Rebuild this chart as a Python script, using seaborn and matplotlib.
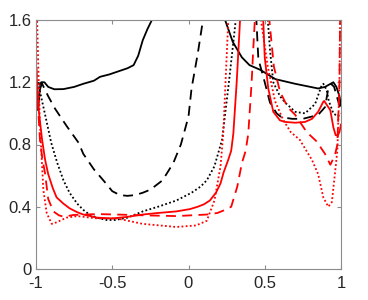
import matplotlib
matplotlib.use("Agg")
import matplotlib.pyplot as plt
import seaborn as sns
import pandas as pd
import numpy as np

sns.set_theme(style="white")
plt.rcParams['font.family'] = ['Liberation Sans', 'DejaVu Sans']

# ---- data ----
bs_left_x = [-1.0, -0.995, -0.99, -0.985, -0.975, -0.96, -0.945, -0.92, -0.88, -0.82, -0.75, -0.69, -0.62,
             -0.58, -0.52, -0.46, -0.40, -0.36, -0.33, -0.30, -0.27, -0.24, -0.22]
bs_left_y = [1.08, 1.02, 1.12, 1.04, 1.15, 1.20, 1.20, 1.17, 1.155, 1.156, 1.17, 1.19, 1.21,
             1.235, 1.25, 1.27, 1.29, 1.31, 1.37, 1.47, 1.54, 1.60, 1.70]
bs_right_x = [0.22, 0.24, 0.29, 0.35, 0.40, 0.47, 0.57, 0.70, 0.85, 0.895, 0.95, 0.97, 0.99, 1.0]
bs_right_y = [1.75, 1.60, 1.46, 1.36, 1.31, 1.28, 1.22, 1.19, 1.16, 1.17, 1.20, 1.17, 1.11, 1.05]

bd_left_x = [-0.98, -0.965, -0.95, -0.92, -0.875, -0.80, -0.72, -0.69, -0.62, -0.55, -0.50, -0.45, -0.40,
             -0.35, -0.30, -0.25, -0.17, -0.10, -0.05, 0.0, 0.02, 0.06, 0.095, 0.11]
bd_left_y = [1.18, 1.20, 1.17, 1.11, 1.03, 0.92, 0.81, 0.74, 0.64, 0.56, 0.50, 0.475, 0.47,
             0.475, 0.49, 0.51, 0.57, 0.68, 0.80, 0.98, 1.16, 1.38, 1.60, 1.70]
bd_right_x = [0.43, 0.445, 0.458, 0.50, 0.534, 0.578, 0.61, 0.68, 0.75, 0.85, 0.895, 0.915, 0.935, 0.955,
              0.975, 1.0]
bd_right_y = [1.75, 1.60, 1.35, 1.20, 1.07, 1.00, 0.975, 0.965, 0.965, 0.99, 1.04, 1.15, 1.19, 1.17, 1.10, 1.02]

bt_left_x = [-0.985, -0.974, -0.94, -0.90, -0.86, -0.82, -0.78, -0.73, -0.69, -0.65, -0.60, -0.54, -0.48,
             -0.40, -0.30, -0.20, -0.08, 0.02, 0.08, 0.12, 0.17, 0.22, 0.265, 0.31, 0.32]
bt_left_y = [1.20, 1.14, 0.99, 0.81, 0.68, 0.57, 0.49, 0.42, 0.38, 0.35, 0.33, 0.315, 0.315,
             0.33, 0.37, 0.40, 0.44, 0.49, 0.53, 0.57, 0.66, 0.83, 1.20, 1.60, 1.70]
bt_right_x = [0.51, 0.52, 0.535, 0.556, 0.60, 0.633, 0.70, 0.764, 0.83, 0.873, 0.884, 0.906, 0.92, 0.95,
              0.98, 1.0]
bt_right_y = [1.75, 1.60, 1.40, 1.20, 1.11, 1.07, 1.01, 1.00, 1.06, 1.18, 1.19, 1.15, 1.08, 1.00,
              0.98, 1.00]

rs_left_x = [-1.0, -0.98, -0.96, -0.94, -0.92, -0.89, -0.865, -0.82, -0.78, -0.73, -0.69, -0.60, -0.50,
             -0.40, -0.30, -0.20, -0.08, 0.01, 0.06, 0.10, 0.14, 0.18, 0.21, 0.23, 0.26, 0.28, 0.294,
             0.316, 0.338, 0.35]
rs_left_y = [1.30, 1.00, 0.83, 0.70, 0.61, 0.52, 0.46, 0.42, 0.39, 0.365, 0.35, 0.33, 0.325,
             0.335, 0.35, 0.36, 0.37, 0.385, 0.40, 0.415, 0.44, 0.49, 0.55, 0.62, 0.70, 0.76, 0.87,
             1.20, 1.60, 1.80]
rs_right_x = [0.48, 0.49, 0.50, 0.523, 0.556, 0.60, 0.633, 0.70, 0.764, 0.81, 0.85, 0.884, 0.89, 0.93,
              0.95, 0.965, 0.98, 0.99, 1.0]
rs_right_y = [1.80, 1.60, 1.36, 1.16, 1.01, 0.955, 0.945, 0.94, 0.945, 0.965, 1.01, 1.075, 1.08, 1.02,
              0.91, 0.86, 0.86, 0.88, 0.93]

rd_left_x = [-1.0, -0.99, -0.974, -0.96, -0.94, -0.92, -0.886, -0.85, -0.82, -0.755, -0.60, -0.47, -0.30,
             -0.08, 0.12, 0.19, 0.24, 0.28, 0.32, 0.35, 0.375, 0.392, 0.414, 0.425, 0.435, 0.44]
rd_left_y = [1.40, 1.10, 0.83, 0.72, 0.61, 0.45, 0.37, 0.345, 0.336, 0.347, 0.353, 0.35, 0.345,
             0.34, 0.35, 0.36, 0.38, 0.40, 0.53, 0.68, 0.76, 0.87, 1.20, 1.42, 1.60, 1.75]
rd_right_x = [0.51, 0.53, 0.56, 0.60, 0.65, 0.70, 0.775, 0.84, 0.895, 0.93, 0.96, 0.976, 0.99, 0.995]
rd_right_y = [1.80, 1.60, 1.30, 1.14, 1.04, 0.99, 0.88, 0.82, 0.74, 0.67, 0.73, 0.80, 1.20, 1.70]

rt_left_x = [-0.995, -0.985, -0.975, -0.963, -0.952, -0.93, -0.897, -0.865, -0.80, -0.73, -0.60, -0.47,
             -0.30, -0.08, 0.05, 0.12, 0.17, 0.21, 0.228, 0.245, 0.261, 0.27]
rt_left_y = [1.70, 1.30, 0.95, 0.72, 0.51, 0.36, 0.29, 0.30, 0.33, 0.34, 0.325, 0.325,
             0.29, 0.27, 0.28, 0.31, 0.44, 0.66, 0.87, 1.25, 1.60, 1.80]
rt_right_x = [0.46, 0.475, 0.52, 0.567, 0.62, 0.67, 0.73, 0.81, 0.85, 0.884, 0.917, 0.94, 0.96,
              0.976, 0.99, 0.995]
rt_right_y = [1.80, 1.60, 1.30, 1.08, 0.96, 0.88, 0.83, 0.70, 0.61, 0.46, 0.40, 0.43, 0.61,
              0.76, 1.20, 1.70]

x_ticks = [-1, -0.5, 0, 0.5, 1]
x_tick_labels = ['-1', '-0.5', '0', '0.5', '1']
y_ticks = [0, 0.4, 0.8, 1.2, 1.6]
y_tick_labels = ['0', '0.4', '0.8', '1.2', '1.6']

# ---- plot ----
fig = plt.figure(figsize=(3.68, 3.0), dpi=100)
ax = fig.add_axes([36/368, 31/300, 305/368, 249/300])

DASH = (5.5, 3.5)
DOT = (1.0, 1.3)
styles = [
    ('black', '-', [(bs_left_x, bs_left_y), (bs_right_x, bs_right_y)]),
    ('black', DASH, [(bd_left_x, bd_left_y), (bd_right_x, bd_right_y)]),
    ('black', DOT, [(bt_left_x, bt_left_y), (bt_right_x, bt_right_y)]),
    ('red', '-', [(rs_left_x, rs_left_y), (rs_right_x, rs_right_y)]),
    ('red', DASH, [(rd_left_x, rd_left_y), (rd_right_x, rd_right_y)]),
    ('red', DOT, [(rt_left_x, rt_left_y), (rt_right_x, rt_right_y)]),
]
for color, ls, branches in styles:
    for bx, by in branches:
        df = pd.DataFrame({'x': bx, 'y': by})
        line = sns.lineplot(data=df, x='x', y='y', ax=ax, color=color, linewidth=1.3,
                            estimator=None, sort=False).lines[-1]
        if ls != '-':
            line.set_dashes(ls)

ax.set_xlim(-1, 1)
ax.set_ylim(0, 1.6)
ax.set_xticks(x_ticks)
ax.set_xticklabels(x_tick_labels)
ax.set_yticks(y_ticks)
ax.set_yticklabels(y_tick_labels)
ax.set_xlabel('')
ax.set_ylabel('')
for s in ax.spines.values():
    s.set_visible(True)
    s.set_color('#8c8c8c')
    s.set_linewidth(0.8)
ax.tick_params(direction='in', length=3, width=0.8, color='#8c8c8c',
               labelsize=12, labelcolor='#262626', top=True, right=True,
               left=True, bottom=True)
ax.tick_params(axis='x', pad=5)
ax.tick_params(axis='y', pad=3)

fig.savefig('out.png', dpi=100)
